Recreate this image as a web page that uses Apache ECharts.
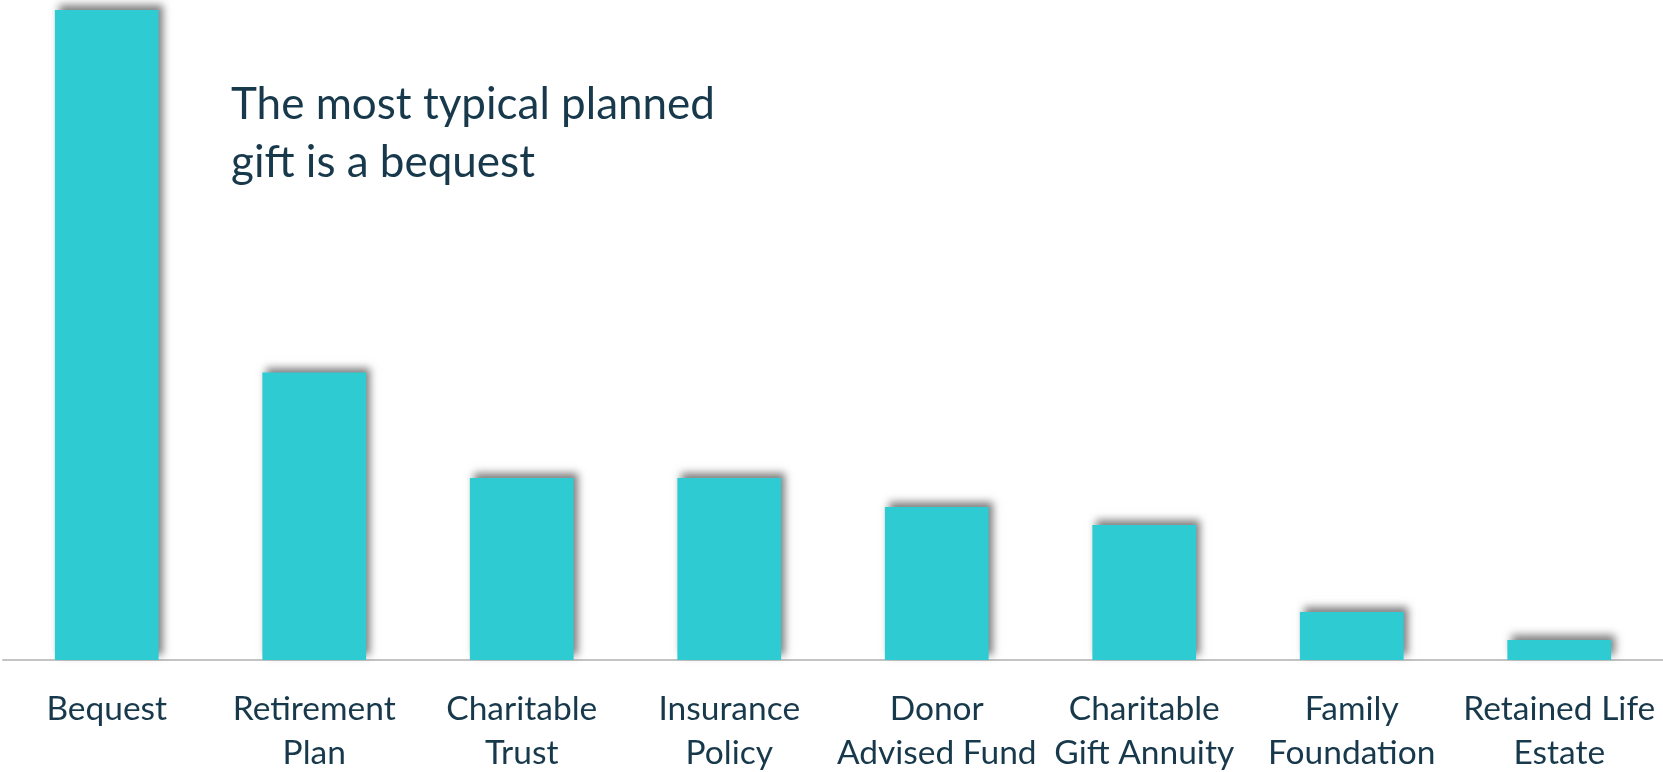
<!DOCTYPE html>
<html>
<head>
<meta charset="utf-8">
<script src="https://cdn.jsdelivr.net/npm/echarts@6/dist/echarts.min.js"></script>
<style>
  html, body { margin: 0; padding: 0; background: #fff; }
  #chart { width: 1663px; height: 772px; }
</style>
</head>
<body>
<div id="chart"></div>
<script>
// categories (line breaks as in the slide)
const giftTypes = [
  "Bequest",
  "Retirement\nPlan",
  "Charitable\nTrust",
  "Insurance\nPolicy",
  "Donor\nAdvised Fund",
  "Charitable\nGift Annuity",
  "Family\nFoundation",
  "Retained Life\nEstate",
];
// relative share
const giftValues = [65, 28.75, 18.2, 18.2, 15.3, 13.5, 4.8, 2.0];
const valueMax = 66;
const noteLines = ["The most typical planned", "gift is a bequest"];

const textColor = "#17394b";

var myChart = echarts.init(document.getElementById("chart"));
var option = {
  animation: false,
  grid: { left: 3, right: 0, top: 0, bottom: 112, outerBoundsMode: "none" },
  xAxis: {
    type: "category",
    data: giftTypes,
    axisTick: { show: false },
    axisLine: { lineStyle: { color: "#c4c4c4", width: 2 } },
    axisLabel: {
      interval: 0,
      margin: 27,
      color: textColor,
      fontSize: 33.5,
      lineHeight: 44,
      fontFamily: "Lato",
      fontWeight: 400,
    },
  },
  yAxis: {
    type: "value",
    min: 0,
    max: valueMax,
    show: false,
    splitLine: { show: false },
  },
  graphic: [
    {
      type: "text",
      left: 231,
      top: 76,
      style: {
        text: noteLines.join("\n"),
        fill: textColor,
        fontSize: 44,
        lineHeight: 58,
        fontFamily: "Lato",
        fontWeight: 400,
      },
    },
  ],
  series: [
    {
      type: "bar",
      data: giftValues,
      barWidth: "50%",
      itemStyle: {
        color: "#2ecbd2",
        shadowColor: "rgba(0,0,0,0.5)",
        shadowBlur: 8,
        shadowOffsetX: 4,
        shadowOffsetY: -5,
      },
    },
  ],
};
myChart.setOption(option);
</script>
</body>
</html>
